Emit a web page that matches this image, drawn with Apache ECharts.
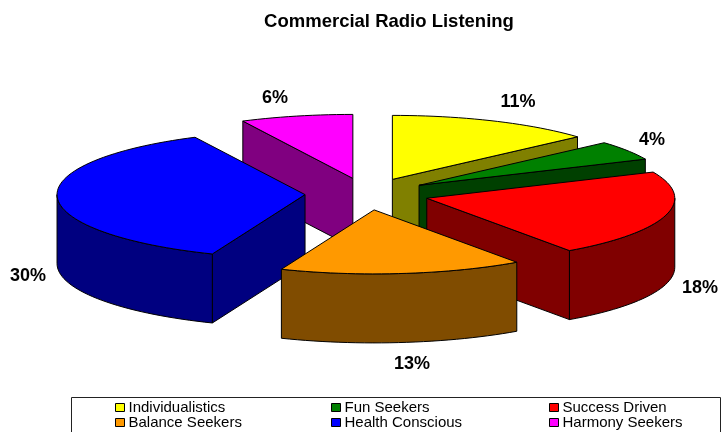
<!DOCTYPE html>
<html>
<head>
<meta charset="utf-8">
<style>html,body{margin:0;padding:0;background:#fff}#chart{width:728px;height:432px}</style>
<script src="https://cdn.jsdelivr.net/npm/echarts@6/dist/echarts.min.js"></script>
</head>
<body>
<div id="chart"></div>
<script>
// Audience segments and their share of commercial radio listening
const categories = ['Individualistics', 'Fun Seekers', 'Success Driven', 'Balance Seekers', 'Health Conscious', 'Harmony Seekers'];
const shares = [11, 4, 18, 13, 30, 6];
const topColors = ['#FFFF00', '#008000', '#FF0000', '#FF9900', '#0000FF', '#FF00FF'];
const sideColors = ['#808000', '#004000', '#800000', '#804C00', '#000080', '#800080'];
const stackOrder = [5, 0, 1, 2, 4, 3];
const labelSpots = [[518, 102], [652, 140], [700, 288], [412, 364], [28, 276], [275, 98]];

// Projected pie geometry: a tilted disc, each slice pulled out along its middle angle
const pie = { cx: 367, cy: 194, rx: 248, ry: 64, depth: 69, explode: 0.25 };
const total = shares.reduce((a, b) => a + b, 0);

function sliceAngles(i) {
  const before = shares.slice(0, i).reduce((a, b) => a + b, 0);
  return [before / total * Math.PI * 2, (before + shares[i]) / total * Math.PI * 2];
}

function arcPoints(apex, from, to) {
  const steps = Math.max(2, Math.ceil((to - from) / (Math.PI / 90)));
  const pts = [];
  for (let s = 0; s <= steps; s++) {
    const t = from + (to - from) * s / steps;
    pts.push([apex[0] + pie.rx * Math.sin(t), apex[1] - pie.ry * Math.cos(t)]);
  }
  return pts;
}

function face(points, fill) {
  return {
    type: 'polygon',
    shape: { points: points },
    style: { fill: fill, stroke: '#000', lineWidth: 1, lineJoin: 'round' }
  };
}

function drawSlice(i) {
  const [a0, a1] = sliceAngles(i);
  const mid = (a0 + a1) / 2;
  const apex = [
    pie.cx + pie.explode * pie.rx * Math.sin(mid),
    pie.cy - pie.explode * pie.ry * Math.cos(mid)
  ];
  const drop = p => [p[0], p[1] + pie.depth];
  const radial = a => {
    const rim = arcPoints(apex, a, a)[0];
    return [apex, rim, drop(rim), drop(apex)];
  };
  const children = [];

  // Cut faces turned towards the viewer
  if (Math.sin(a0) < 0) children.push(face(radial(a0), sideColors[i]));
  if (Math.sin(a1) > 0) children.push(face(radial(a1), sideColors[i]));

  // Outer wall along the near half of the rim
  const wallFrom = Math.max(a0, Math.PI / 2);
  const wallTo = Math.min(a1, Math.PI * 1.5);
  if (wallTo > wallFrom) {
    const rim = arcPoints(apex, wallFrom, wallTo);
    children.push(face(rim.concat(rim.slice().reverse().map(drop)), sideColors[i]));
  }

  // Top face
  children.push(face([apex].concat(arcPoints(apex, a0, a1)), topColors[i]));

  // Value label
  children.push({
    type: 'text',
    style: {
      x: labelSpots[i][0],
      y: labelSpots[i][1],
      text: shares[i] + '%',
      font: 'bold 18px "Liberation Sans", Arial, sans-serif',
      fill: '#000',
      align: 'center',
      verticalAlign: 'middle'
    }
  });
  return { type: 'group', children: children };
}

const legendBase = {
  orient: 'vertical',
  top: 400,
  padding: 0,
  itemGap: 0,
  itemWidth: 9,
  itemHeight: 8,
  selectedMode: false,
  icon: 'rect',
  itemStyle: { borderColor: '#000', borderWidth: 1 },
  textStyle: {
    fontFamily: '"Liberation Sans", Arial, sans-serif',
    fontSize: 15,
    color: '#000',
    padding: [0, 0, 0, -1],
    lineHeight: 15
  }
};

const chart = echarts.init(document.getElementById('chart'), null, { renderer: 'canvas' });
chart.setOption({
  animation: false,
  backgroundColor: '#fff',
  title: {
    text: 'Commercial Radio Listening',
    left: 384,
    top: 7,
    textAlign: 'center',
    textStyle: {
      fontFamily: '"Liberation Sans", Arial, sans-serif',
      fontSize: 18.5,
      fontWeight: 'bold',
      color: '#000'
    }
  },
  legend: [
    Object.assign({}, legendBase, { left: 115, data: [categories[0], categories[3]] }),
    Object.assign({}, legendBase, { left: 331, data: [categories[1], categories[4]] }),
    Object.assign({}, legendBase, { left: 549, data: [categories[2], categories[5]] })
  ],
  graphic: [{
    type: 'rect',
    silent: true,
    shape: { x: 71.5, y: 397.5, width: 649, height: 50 },
    style: { fill: 'none', stroke: '#222', lineWidth: 1 }
  }],
  series: categories.map((name, i) => ({
    type: 'custom',
    name: name,
    coordinateSystem: 'none',
    z: 2 + stackOrder.indexOf(i),
    silent: true,
    itemStyle: { color: topColors[i] },
    data: [shares[i]],
    renderItem: () => drawSlice(i)
  }))
});
</script>
</body>
</html>
